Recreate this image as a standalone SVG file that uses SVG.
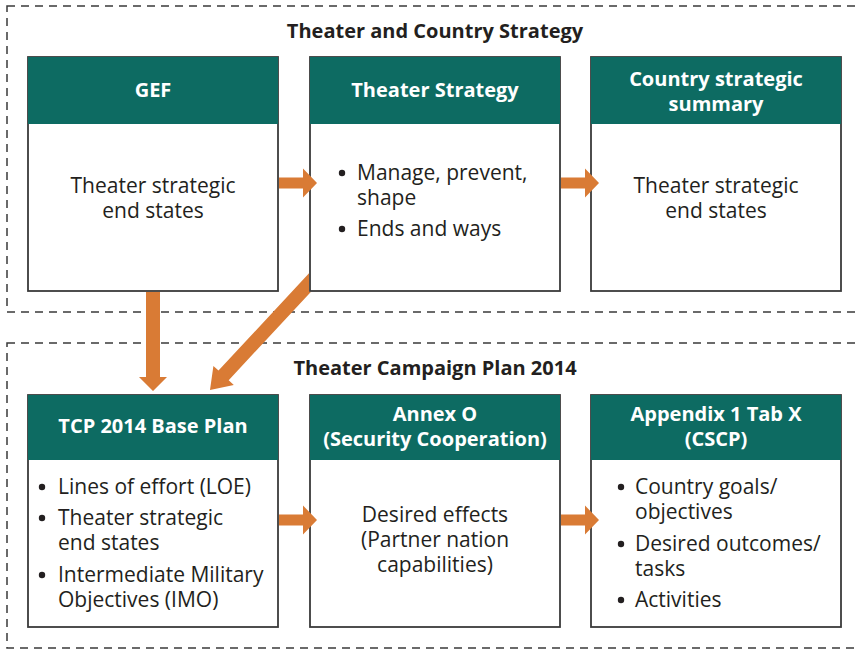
<svg xmlns="http://www.w3.org/2000/svg" width="860" height="650" viewBox="0 0 860 650">
<defs>
<style>
.frame{fill:none;stroke:#3a3a3a;stroke-width:1.5;stroke-dasharray:8,6}
.body{fill:#fff;stroke:#3a3a3a;stroke-width:1.8}
.head{fill:#0d6b62}
.ht{font-family:"Open Sans","Noto Sans",sans-serif;font-weight:bold;font-size:20px;fill:#fff;text-anchor:middle}
.st{font-family:"Open Sans","Noto Sans",sans-serif;font-weight:bold;font-size:20px;fill:#231f20;text-anchor:middle}
.bt{font-family:"Open Sans","Noto Sans",sans-serif;font-size:21px;fill:#231f20}
.dot{fill:#231f20}
.c{text-anchor:middle}
.arr{fill:#d97b35}
</style>
<g id="a-h"><path d="M0,-5.5 H24 V-14.5 L38,0 L24,14.5 V5.5 H0 Z"/></g>
</defs>
<rect class="frame" x="7" y="6" width="880" height="306"/>
<text class="st" x="435" y="38">Theater and Country Strategy</text>
<rect class="frame" x="7" y="343" width="880" height="305"/>
<text class="st" x="435" y="375">Theater Campaign Plan 2014</text>

<g id="gef">
<rect class="body" x="28" y="57" width="250" height="234"/>
<rect class="head" x="28" y="57" width="250" height="67"/>
<text class="ht" x="153" y="97">GEF</text>
<text class="bt c" x="153" y="193">Theater strategic<tspan x="153" dy="25">end states</tspan></text>
</g>
<g id="theater-strategy">
<rect class="body" x="310" y="57" width="250" height="234"/>
<rect class="head" x="310" y="57" width="250" height="67"/>
<text class="ht" x="435" y="97">Theater Strategy</text>
<circle class="dot" cx="342" cy="173" r="3.2"/>
<text class="bt" x="357" y="180">Manage, prevent,<tspan x="357" dy="25">shape</tspan></text>
<circle class="dot" cx="342" cy="229" r="3.2"/>
<text class="bt" x="357" y="236">Ends and ways</text>
</g>
<g id="country-summary">
<rect class="body" x="591" y="57" width="250" height="234"/>
<rect class="head" x="591" y="57" width="250" height="67"/>
<text class="ht" x="716" y="86">Country strategic<tspan x="716" dy="25">summary</tspan></text>
<text class="bt c" x="716" y="193">Theater strategic<tspan x="716" dy="25">end states</tspan></text>
</g>
<g id="tcp-base">
<rect class="body" x="28" y="395" width="250" height="232"/>
<rect class="head" x="28" y="395" width="250" height="65"/>
<text class="ht" x="153" y="433">TCP 2014 Base Plan</text>
<circle class="dot" cx="42" cy="487" r="3.2"/>
<text class="bt" x="58" y="494">Lines of effort (LOE)</text>
<circle class="dot" cx="42" cy="518" r="3.2"/>
<text class="bt" x="58" y="525">Theater strategic<tspan x="58" dy="25">end states</tspan></text>
<circle class="dot" cx="42" cy="575" r="3.2"/>
<text class="bt" x="58" y="582">Intermediate Military<tspan x="58" dy="25">Objectives (IMO)</tspan></text>
</g>
<g id="annex-o">
<rect class="body" x="310" y="395" width="250" height="232"/>
<rect class="head" x="310" y="395" width="250" height="65"/>
<text class="ht" x="435" y="421">Annex O<tspan x="435" dy="25">(Security Cooperation)</tspan></text>
<text class="bt c" x="435" y="522">Desired effects<tspan x="435" dy="25">(Partner nation</tspan><tspan x="435" dy="25">capabilities)</tspan></text>
</g>
<g id="appendix">
<rect class="body" x="591" y="395" width="250" height="232"/>
<rect class="head" x="591" y="395" width="250" height="65"/>
<text class="ht" x="716" y="421">Appendix 1 Tab X<tspan x="716" dy="25">(CSCP)</tspan></text>
<circle class="dot" cx="621" cy="487" r="3.2"/>
<text class="bt" x="635" y="494">Country goals/<tspan x="635" dy="25">objectives</tspan></text>
<circle class="dot" cx="621" cy="544" r="3.2"/>
<text class="bt" x="635" y="551">Desired outcomes/<tspan x="635" dy="25">tasks</tspan></text>
<circle class="dot" cx="621" cy="600" r="3.2"/>
<text class="bt" x="635" y="607">Activities</text>
</g>

<g id="connectors" class="arr">
<use href="#a-h" x="279" y="183"/>
<use href="#a-h" x="561" y="183"/>
<use href="#a-h" x="279" y="520"/>
<use href="#a-h" x="561" y="520"/>
<path d="M146,292 H160 V377 H167 L153,391 L139,377 H146 Z"/>
<path d="M210,390 L213.4,365.9 L218.5,370.6 L309,273.3 L309,292 L310.8,292 L228.7,380.2 L233.8,384.9 Z"/>
</g>
</svg>
